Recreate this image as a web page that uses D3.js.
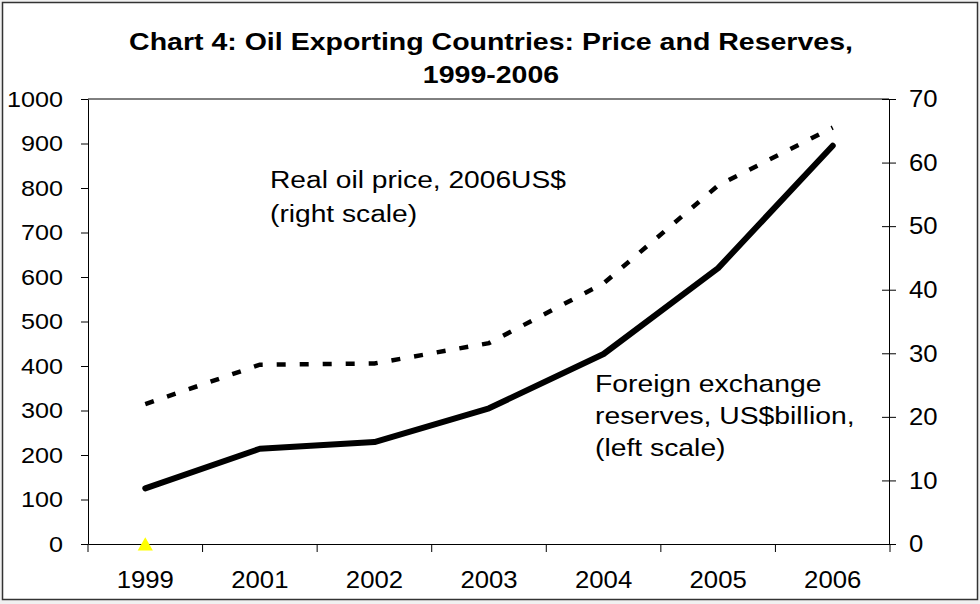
<!DOCTYPE html>
<html>
<head>
<meta charset="utf-8">
<script src="https://cdn.jsdelivr.net/npm/d3@7"></script>
<style>
  html, body { margin: 0; padding: 0; background: #ffffff; }
  svg { display: block; font-family: "Liberation Sans", Arial, sans-serif; }
</style>
</head>
<body>
<svg id="chart" width="980" height="604"></svg>
<script>
// ---- data ----
const years = ["1999", "2001", "2002", "2003", "2004", "2005", "2006"];
const reserves = [125, 214, 229, 305, 427, 620, 895];          // US$ billion, left scale
const oilPrice = [22.0, 28.2, 28.4, 31.6, 41.0, 56.4, 65.5];    // 2006 US$, right scale
const markerValues = [0];                                       // yellow marker at 1999
const leftTicks = [0, 100, 200, 300, 400, 500, 600, 700, 800, 900, 1000];
const rightTicks = [0, 10, 20, 30, 40, 50, 60, 70];
const titleLines = ["Chart 4: Oil Exporting Countries: Price and Reserves,", "1999-2006"];
const priceLabel = ["Real oil price, 2006US$", "(right scale)"];
const reservesLabel = ["Foreign exchange", "reserves, US$billion,", "(left scale)"];

// ---- layout ----
const svg = d3.select("#chart");
const W = 980, H = 604;
const plot = { left: 88, right: 890, top: 99, bottom: 544 };
const FONT = "Liberation Sans, Arial, sans-serif";

svg.append("rect").attr("x", 0).attr("y", 0).attr("width", W).attr("height", H).attr("fill", "#f0f0f0");
svg.append("rect").attr("x", 2.5).attr("y", 2.5).attr("width", 975).attr("height", 597)
  .attr("fill", "#ffffff").attr("stroke", "#333").attr("stroke-width", 1.5);

const x = d3.scaleBand().domain(years).range([plot.left, plot.right]).padding(0);
const yL = d3.scaleLinear().domain([0, 1000]).range([plot.bottom, plot.top]);
const yR = d3.scaleLinear().domain([0, 70]).range([plot.bottom, plot.top]);
const cx = d => x(d) + x.bandwidth() / 2;

// title (text is horizontally stretched in the original)
svg.append("g").selectAll("text").data(titleLines).join("text")
  .attr("transform", (d, i) => `translate(491,${50 + i * 33}) scale(1.24,1)`)
  .attr("text-anchor", "middle").attr("font-weight", "bold").attr("font-size", 23)
  .attr("fill", "#000").text(d => d);

// top frame line of plot
svg.append("line").attr("x1", plot.left).attr("x2", plot.right - 1)
  .attr("y1", yL(1000)).attr("y2", yL(1000)).attr("stroke", "#000").attr("stroke-width", 1);

// left axis
const gL = svg.append("g").attr("transform", `translate(${plot.left},0)`)
  .call(d3.axisLeft(yL).tickValues(leftTicks).tickFormat(d3.format("d")).tickSize(7).tickSizeOuter(0));
gL.select(".domain").attr("stroke", "#000");
gL.selectAll(".tick text").attr("x", 0).attr("transform", "translate(-25,0) scale(1.12,1)")
  .attr("font-size", 22.5).attr("fill", "#000").attr("font-family", FONT);

// right axis
const gR = svg.append("g").attr("transform", `translate(${plot.right - 1},0)`)
  .call(d3.axisRight(yR).tickValues(rightTicks).tickSize(7).tickSizeOuter(0));
gR.selectAll(".tick line").attr("x1", -7);
gR.select(".domain").attr("stroke", "#000");
gR.selectAll(".tick text").attr("x", 0).attr("transform", "translate(20,0) scale(1.05,1)")
  .attr("font-size", 24.5).attr("fill", "#000").attr("font-family", FONT);

// bottom axis (labels at band centres, ticks at band boundaries)
const gB = svg.append("g").attr("transform", `translate(0,${plot.bottom})`)
  .call(d3.axisBottom(x).tickSize(0).tickPadding(27).tickSizeOuter(0));
gB.select(".domain").attr("stroke", "#000");
gB.selectAll(".tick text").attr("transform", "scale(1.05,1)")
  .attr("font-size", 24.5).attr("fill", "#000").attr("font-family", FONT);
const boundaries = years.map(d => x(d)).concat([x.range()[1]]);
gB.selectAll("line.bound").data(boundaries).join("line").attr("class", "bound")
  .attr("x1", d => d).attr("x2", d => d).attr("y1", 0).attr("y2", 8)
  .attr("stroke", "#000").attr("stroke-width", 1);

// series lines
const lineL = d3.line().x((d, i) => cx(years[i])).y(d => yL(d));
const lineR = d3.line().x((d, i) => cx(years[i])).y(d => yR(d));

svg.append("path").datum(oilPrice).attr("d", lineR)
  .attr("fill", "none").attr("stroke", "#000").attr("stroke-width", 4.5)
  .attr("stroke-dasharray", "9,14");

svg.append("path").datum(reserves).attr("d", lineL)
  .attr("fill", "none").attr("stroke", "#000").attr("stroke-width", 6)
  .attr("stroke-linecap", "round").attr("stroke-linejoin", "round");

// yellow marker
svg.append("g").selectAll("path").data(markerValues).join("path")
  .attr("transform", (d, i) => `translate(${cx(years[i])},${yL(d) + 2})`)
  .attr("d", d3.symbol(d3.symbolTriangle).size(100))
  .attr("fill", "#ffff00");

// annotations
svg.append("g").selectAll("text").data(priceLabel).join("text")
  .attr("transform", (d, i) => `translate(270,${188 + i * 34}) scale(1.15,1)`)
  .attr("font-size", 24.5).attr("fill", "#000").attr("font-family", FONT).text(d => d);

svg.append("g").selectAll("text").data(reservesLabel).join("text")
  .attr("transform", (d, i) => `translate(595,${392 + i * 32}) scale(1.18,1)`)
  .attr("font-size", 24).attr("fill", "#000").attr("font-family", FONT).text(d => d);
</script>
</body>
</html>
